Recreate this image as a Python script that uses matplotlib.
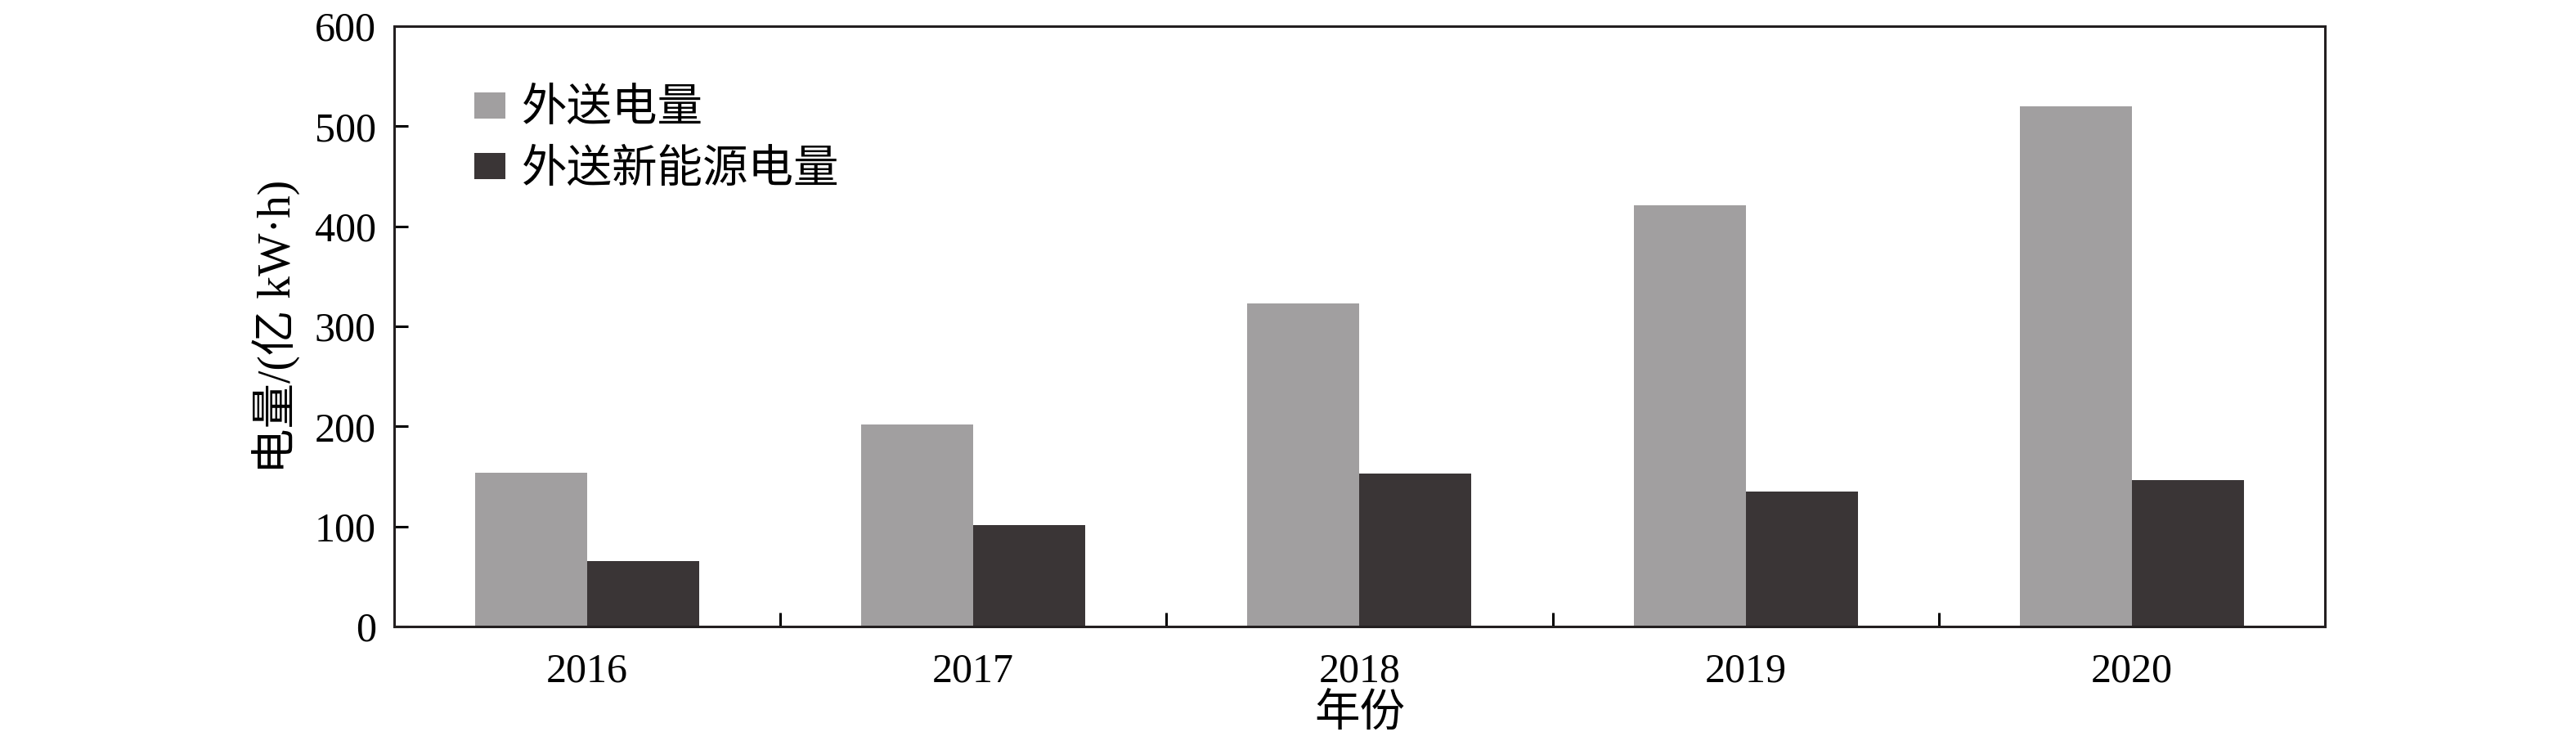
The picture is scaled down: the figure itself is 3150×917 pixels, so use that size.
import numpy as np
import matplotlib
matplotlib.use("Agg")
import matplotlib.pyplot as plt
from matplotlib.ticker import FixedLocator

# Data
years = ["2016", "2017", "2018", "2019", "2020"]
total_out = [154, 202, 323, 421, 520]      # 外送电量
renew_out = [65, 101, 153, 135, 146]       # 外送新能源电量
yticks = [0, 100, 200, 300, 400, 500, 600]

fonts = ["Liberation Serif", "Noto Sans CJK SC", "DejaVu Sans"]
plt.rcParams["font.family"] = fonts
fs = 36
fs_cjk = 40

fig = plt.figure(figsize=(31.5, 9.17), dpi=100)
ax = fig.add_axes([0.153, 0.1647, 0.7495, 0.8003])

x = np.arange(len(years))
w = 0.29
ax.bar(x - w / 2, total_out, width=w, color="#a19fa0", label="外送电量")
ax.bar(x + w / 2, renew_out, width=w, color="#3a3536", label="外送新能源电量")

ax.set_xlim(-0.5, len(years) - 0.5)
ax.set_ylim(0, 600)
ax.set_yticks(yticks)

# year labels at group centres, tick marks at group boundaries
ax.set_xticks(x)
ax.set_xticklabels(years)
ax.xaxis.set_minor_locator(FixedLocator(x[:-1] + 0.5))
ax.tick_params(axis="x", which="major", length=0, pad=23, labelsize=fs)
ax.tick_params(axis="x", which="minor", direction="in", length=12, width=2.2)
ax.tick_params(axis="y", direction="in", length=12, width=2.2, pad=16, labelsize=fs)

for s in ax.spines.values():
    s.set_linewidth(2.2)
    s.set_color("#231f20")

ax.set_xlabel("年份", fontsize=fs_cjk, labelpad=3)
ax.set_ylabel("电量/(亿 kW·h)", fontsize=fs_cjk, labelpad=12)

ax.legend(loc="upper left", bbox_to_anchor=(0.0415, 0.896), frameon=False,
          fontsize=fs_cjk, borderpad=0, borderaxespad=0, handlelength=0.68,
          handleheight=0.5, handletextpad=0.36, labelspacing=0.4)

fig.savefig("out.png", dpi=100)
